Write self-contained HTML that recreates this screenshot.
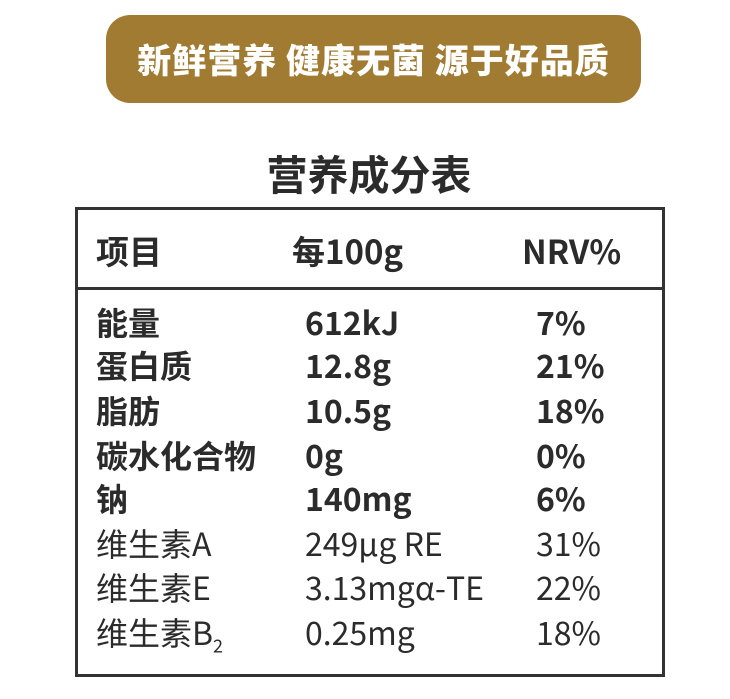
<!DOCTYPE html>
<html><head><meta charset="utf-8"><style>
body{margin:0;width:730px;height:699px;background:#fff;position:relative;overflow:hidden;font-family:"Liberation Sans","Noto Sans CJK SC",sans-serif;color:#2b2b2b}
.banner{position:absolute;left:106px;top:15px;width:535px;height:88px;background:#a17b31;border-radius:24px;color:#fff;font-weight:900;font-size:34px;line-height:88px;text-align:center;letter-spacing:1px;font-family:"Noto Sans CJK SC",sans-serif}
.title{position:absolute;left:0;width:738px;top:144px;text-align:center;font-size:41px;font-weight:bold;font-family:"Noto Sans CJK SC",sans-serif;line-height:56px}
.box{position:absolute;left:75px;top:207px;width:584px;height:464px;border:3px solid #333}
.hl{position:absolute;left:75px;top:287px;width:590px;height:3px;background:#333}
.t{position:absolute;font-size:32px;line-height:40px;white-space:nowrap;font-family:"Noto Sans CJK SC",sans-serif}
.h{font-size:33px}
.b{font-weight:bold}
</style></head><body>
<div class="banner">新鲜营养 健康无菌 源于好品质</div>
<div class="title">营养成分表</div>
<div class="box"></div>
<div class="hl"></div>
<div class="t b h" style="left:96px;top:230px">项目</div>
<div class="t b h" style="left:292px;top:230px">每100g</div>
<div class="t b h" style="left:522px;top:230px">NRV%</div>

<div class="t b" style="left:96px;top:302px">能量</div><div class="t b" style="left:305px;top:302px">612kJ</div><div class="t b" style="left:536px;top:302px">7%</div>
<div class="t b" style="left:96px;top:345px">蛋白质</div><div class="t b" style="left:305px;top:345px">12.8g</div><div class="t b" style="left:536px;top:345px">21%</div>
<div class="t b" style="left:96px;top:390px">脂肪</div><div class="t b" style="left:305px;top:390px">10.5g</div><div class="t b" style="left:536px;top:390px">18%</div>
<div class="t b" style="left:96px;top:435px">碳水化合物</div><div class="t b" style="left:305px;top:435px">0g</div><div class="t b" style="left:536px;top:435px">0%</div>
<div class="t b" style="left:96px;top:478px">钠</div><div class="t b" style="left:305px;top:478px">140mg</div><div class="t b" style="left:536px;top:478px">6%</div>
<div class="t" style="left:96px;top:523px">维生素A</div><div class="t" style="left:305px;top:523px">249μg RE</div><div class="t" style="left:536px;top:523px">31%</div>
<div class="t" style="left:96px;top:567px">维生素E</div><div class="t" style="left:305px;top:567px">3.13mgα-TE</div><div class="t" style="left:536px;top:567px">22%</div>
<div class="t" style="left:96px;top:612px">维生素B<sub style="font-size:18px">2</sub></div><div class="t" style="left:305px;top:612px">0.25mg</div><div class="t" style="left:536px;top:612px">18%</div>
</body></html>
